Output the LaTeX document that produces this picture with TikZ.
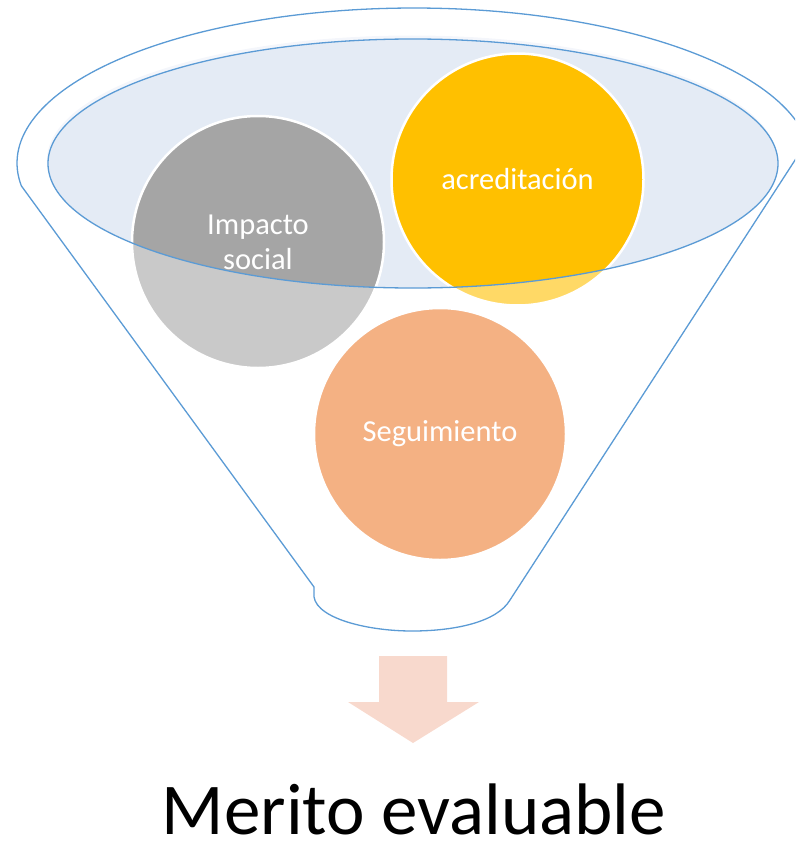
\documentclass[tikz,border=0pt]{standalone}
\usepackage{fontspec}
\setmainfont{Carlito}
\definecolor{funnelblue}{HTML}{5B9BD5}
\definecolor{rimfill}{HTML}{E4EBF5}
\definecolor{halo}{HTML}{EDF1F9}
\definecolor{cgray}{HTML}{A5A5A5}
\definecolor{cyellow}{HTML}{FFC000}
\definecolor{corange}{HTML}{ED7D31}
\definecolor{arrowfill}{HTML}{F8D9CD}
\begin{document}
\begin{tikzpicture}[x=1pt,y=-1pt,
  ball/.style={circle, draw=white, line width=2.5pt, minimum size=252pt, inner sep=0pt},
  lbl/.style={text=white, font=\fontsize{30.5}{35}\selectfont, align=center},
  funnelline/.style={draw=funnelblue, line width=1.3pt}]
\useasboundingbox (0,0) rectangle (795,843);
\clip (0,0) rectangle (795,843);
% inner rim ellipse fill (with faint halo)
\fill[halo] (412,160) ellipse[x radius=365, y radius=124.5];
\fill[rimfill] (413,163.5) ellipse[x radius=365, y radius=124.5];
% balls
\node[ball, fill=cgray] (impacto) at (258,242) {};
\node[ball, fill=cyellow] (acred) at (517.5,179.5) {};
\node[ball, fill=corange] (seg) at (440,434) {};
% funnel body: translucent white wash outside the rim ellipse
\fill[white, opacity=0.4, even odd rule]
  plot[domain=171.5:352, samples=120] ({414+397*cos(\x)},{163+155*sin(\x)})
  -- (510,600) .. controls (497,622) and (455,631) .. (412,631)
  .. controls (365,631) and (310,617) .. (314,592) -- (314,587) -- cycle
  (413,163.5) ellipse[x radius=365, y radius=124.5];
% outlines
\draw[funnelline]
  plot[domain=171.5:352, samples=120] ({414+397*cos(\x)},{163+155*sin(\x)})
  -- (510,600) .. controls (497,622) and (455,631) .. (412,631)
  .. controls (365,631) and (310,617) .. (314,592) -- (314,587) -- cycle;
\draw[funnelline] (413,163.5) ellipse[x radius=365, y radius=124.5];
% labels
\node[lbl] (impactolbl) at (impacto) {Impacto\\social};
\node[lbl] (acredlbl) at (acred) {acreditación};
\node[lbl] (seglbl) at (seg) {Seguimiento};
% arrow
\fill[arrowfill] (379,656) -- (447,656) -- (447,702) -- (479,702) -- (413,743)
  -- (348,702) -- (379,702) -- cycle;
% result
\node[font=\fontsize{73}{80}\selectfont, anchor=base, inner sep=0pt, text depth=0pt] (merit) at (414,834) {Merito evaluable};
\end{tikzpicture}
\end{document}
